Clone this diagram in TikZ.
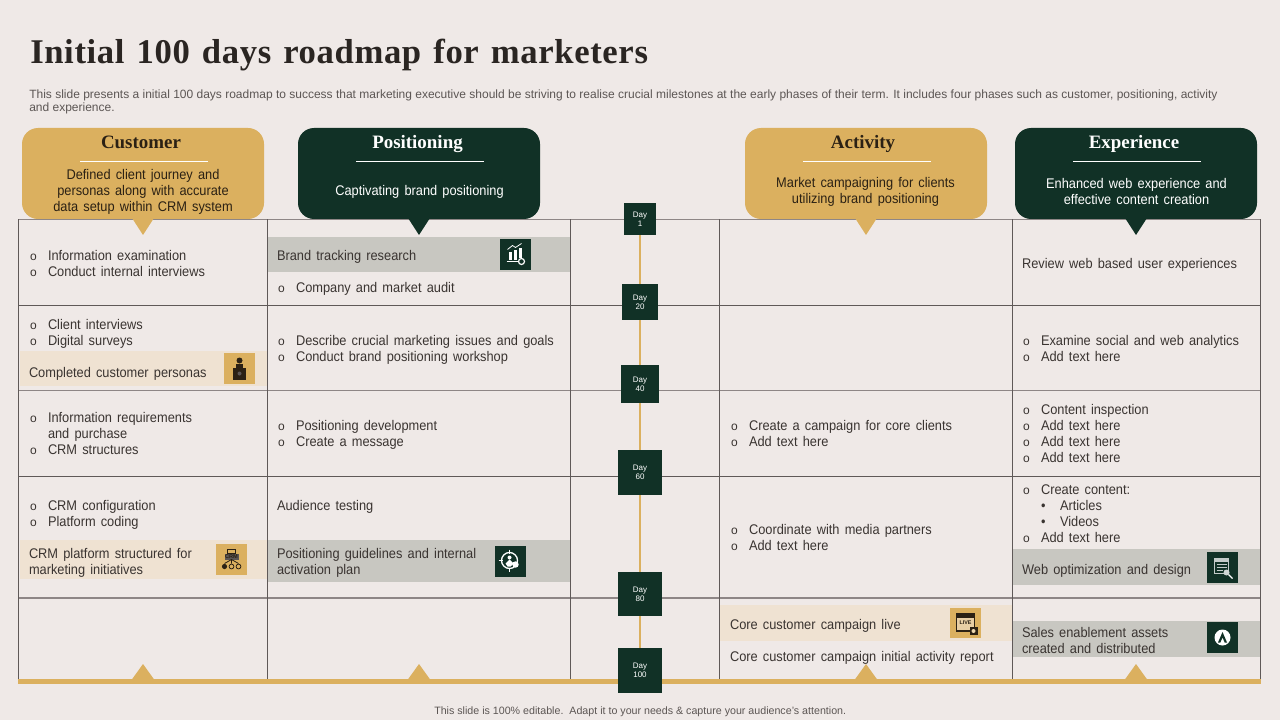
\documentclass[tikz,border=0pt]{standalone}
\usepackage{fontspec}
\setmainfont{Liberation Sans}
\newfontfamily\bodyf{Liberation Sans}[FakeStretch=0.915,WordSpace=1.45]
\newfontfamily\serifb{Liberation Serif}[BoldFont={Liberation Serif Bold}]
\newfontfamily\titlef{Liberation Serif Bold}[LetterSpace=1.8,WordSpace=1.3]
\definecolor{bgc}{HTML}{EFE9E7}
\definecolor{goldc}{HTML}{DBB05F}
\definecolor{greenc}{HTML}{113126}
\definecolor{tanc}{HTML}{EFE2D2}
\definecolor{grayc}{HTML}{C8C7C1}
\definecolor{inkc}{HTML}{3A3431}
\definecolor{subc}{HTML}{5C5654}
\definecolor{titlec}{HTML}{2A2522}
\definecolor{gridd}{HTML}{5F5958}
\definecolor{gridl}{HTML}{8E8686}
\definecolor{iconink}{HTML}{2B2114}
\newcounter{tn}
\tikzset{
  txt/.style={anchor=base west,inner sep=0pt,outer sep=0pt,text=inkc,font=\bodyf\fontsize{10.5}{12}\selectfont},
  callout/.style={rounded corners=12pt,minimum width=181.5pt,minimum height=68.25pt,inner sep=0pt},
  ctitle/.style={anchor=base,inner sep=0pt,font=\serifb\bfseries\fontsize{14.2}{16}\selectfont},
  cbody/.style={inner sep=0pt,align=center,font=\bodyf\fontsize{10.5}{12}\selectfont},
  daybox/.style={fill=greenc,inner sep=0pt,text=white,font=\fontsize{6}{6.75}\selectfont},
  gthin/.style={draw=gridd,line width=0.9pt},
  gthick/.style={draw=gridl,line width=1.35pt},
  vline/.style={draw=gridd,line width=0.85pt},
  rulew/.style={draw=white,line width=0.75pt},
  iw/.style={draw=white,line width=0.6pt},
  ik/.style={draw=iconink,line width=0.6pt}
}
\newcommand\tl[3]{\stepcounter{tn}\node[txt] (t\arabic{tn}) at (#1,#2) {#3};}
\newcommand\bl[3]{\stepcounter{tn}\node[txt,font=\fontsize{9}{12}\selectfont] (b\arabic{tn}) at ({#1-18},#2) {o};\node[txt] (t\arabic{tn}) at (#1,#2) {#3};}
\newcommand\dayl[1]{\raisebox{-0.75pt}[\height][\depth]{\begin{tabular}{@{}c@{}}Day\\#1\end{tabular}}}
\begin{document}
\begin{tikzpicture}[x=0.75pt,y=-0.75pt]
\useasboundingbox (0,0) rectangle (1280,720);
\fill[bgc] (0,0) rectangle (1280,720);

% title and intro
\node[anchor=base west,inner sep=0pt,text=titlec,font=\titlef\fontsize{26}{30}\selectfont] (title) at (30,64) {Initial 100 days roadmap for marketers};
\node[anchor=base west,inner sep=0pt,text=subc,font=\fontsize{9}{10.5}\selectfont] (intro1) at (29,98.5) {This slide presents a initial 100 days roadmap to success that marketing executive should be striving to realise crucial milestones at the early phases of their term. It includes four phases such as customer, positioning, activity};
\node[anchor=base west,inner sep=0pt,text=subc,font=\fontsize{9}{10.5}\selectfont] (intro2) at (29,111.5) {and experience.};

% bands
\fill[grayc] (268,237) rectangle (571,272);
\fill[tanc] (20,351) rectangle (267,386);
\fill[tanc] (20,540) rectangle (267,579);
\fill[grayc] (268,540) rectangle (571,582);
\fill[grayc] (1012,549) rectangle (1260,585);
\fill[grayc] (1012,621) rectangle (1260,657);
\fill[tanc] (720,605) rectangle (1012,641);

% grid
\draw[gthick] (19,219.5) -- (1260.5,219.5);
\draw[gthin] (19,305.5) -- (1260.5,305.5);
\draw[gthick] (19,390.5) -- (1260.5,390.5);
\draw[gthin] (19,476.5) -- (1260.5,476.5);
\draw[gthick] (19,598) -- (1260.5,598);
\foreach \xx in {18.5,267.5,570.5,719.5,1012.5,1260.5} \draw[vline] (\xx,219.5) -- (\xx,680);

% bottom bar and triangles
\fill[goldc] (18,679) rectangle (1261,684);
\foreach \xx in {143,419,866,1136} \fill[goldc] (\xx,664) -- ({\xx+11.5},680) -- ({\xx-11.5},680) -- cycle;

% callouts
\node[callout,fill=goldc] (c1) at (143,173.5) {};
\node[callout,fill=greenc] (c2) at (419,173.5) {};
\node[callout,fill=goldc] (c3) at (866,173.5) {};
\node[callout,fill=greenc] (c4) at (1136,173.5) {};
\fill[goldc] (132,218) -- (154,218) -- (143,235) -- cycle;
\fill[greenc] (408,218) -- (430,218) -- (419,235) -- cycle;
\fill[goldc] (855,218) -- (877,218) -- (866,235) -- cycle;
\fill[greenc] (1125,218) -- (1147,218) -- (1136,235) -- cycle;
\node[ctitle,text=iconink] (h1) at (141,148.5) {Customer};
\node[ctitle,text=white] (h2) at (417.5,148.5) {Positioning};
\node[ctitle,text=iconink] (h3) at (863,148.5) {Activity};
\node[ctitle,text=white] (h4) at (1134,148.5) {Experience};
\draw[rulew] (80,161.5) -- (208,161.5);
\draw[rulew] (356,161.5) -- (484,161.5);
\draw[rulew] (803,161.5) -- (931,161.5);
\draw[rulew] (1073,161.5) -- (1201,161.5);
\node[cbody,text=iconink] (b1) at (143,191.5) {Defined client journey and\\personas along with accurate\\data setup within CRM system};
\node[cbody,text=white] (b2) at (419.5,191.5) {Captivating brand positioning};
\node[cbody,text=iconink] (b3) at (865.5,191.5) {Market campaigning for clients\\utilizing brand positioning};
\node[cbody,text=white] (b4) at (1136.5,191.5) {Enhanced web experience and\\effective content creation};

% column 1
\bl{48}{260}{Information examination}
\bl{48}{276}{Conduct internal interviews}
\bl{48}{329}{Client interviews}
\bl{48}{345}{Digital surveys}
\tl{29}{377}{Completed customer personas}
\bl{48}{422}{Information requirements}
\tl{48}{438}{and purchase}
\bl{48}{454}{CRM structures}
\bl{48}{510}{CRM configuration}
\bl{48}{526}{Platform coding}
\tl{29}{558}{CRM platform structured for}
\tl{29}{574}{marketing initiatives}

% column 2
\tl{277}{260}{Brand tracking research}
\bl{296}{292}{Company and market audit}
\bl{296}{345}{Describe crucial marketing issues and goals}
\bl{296}{361}{Conduct brand positioning workshop}
\bl{296}{430}{Positioning development}
\bl{296}{446}{Create a message}
\tl{277}{510}{Audience testing}
\tl{277}{558}{Positioning guidelines and internal}
\tl{277}{574}{activation plan}

% column 4
\bl{749}{430}{Create a campaign for core clients}
\bl{749}{446}{Add text here}
\bl{749}{534}{Coordinate with media partners}
\bl{749}{550}{Add text here}
\tl{730}{629}{Core customer campaign live}
\tl{730}{661}{Core customer campaign initial activity report}

% column 5
\tl{1022}{268}{Review web based user experiences}
\bl{1041}{345}{Examine social and web analytics}
\bl{1041}{361}{Add text here}
\bl{1041}{414}{Content inspection}
\bl{1041}{430}{Add text here}
\bl{1041}{446}{Add text here}
\bl{1041}{462}{Add text here}
\bl{1041}{494}{Create content:}
\tl{1041}{510}{•}
\tl{1060}{510}{Articles}
\tl{1041}{526}{•}
\tl{1060}{526}{Videos}
\bl{1041}{542}{Add text here}
\tl{1022}{574}{Web optimization and design}
\tl{1022}{637}{Sales enablement assets}
\tl{1022}{653}{created and distributed}

% icons
% chart
\begin{scope}[shift={(515.5,254.5)}]
\fill[greenc] (-15.5,-15.5) rectangle (15.5,15.5);
\fill[white] (-7,-3) rectangle (-4,5);
\fill[white] (-2,-5) rectangle (1,5);
\fill[white] (3,-7) rectangle (6,3);
\draw[iw] (-8,-5) -- (-3,-9) -- (0,-7) -- (6,-11);
\draw[iw] (-9,7) -- (3,7);
\draw[iw,line width=0.9pt] (6,7) circle (3);
\end{scope}
% person
\begin{scope}[shift={(239.5,368.5)}]
\fill[goldc] (-15.5,-15.5) rectangle (15.5,15.5);
\fill[iconink] (0,-8) circle (3);
\fill[iconink] (-3.5,-5) rectangle (3.5,0);
\fill[iconink] (-6.5,-1) rectangle (6.5,11);
\fill[subc] (0,5) circle (2);
\end{scope}
% CRM
\begin{scope}[shift={(231.5,559.5)}]
\fill[goldc] (-15.5,-15.5) rectangle (15.5,15.5);
\draw[ik] (-4,-10) rectangle (4,-6);
\fill[subc] (-7,-6) rectangle (7,0);
\node[inner sep=0pt,text=iconink,font=\bfseries\fontsize{4.2}{4.2}\selectfont] (crm) at (0,-3) {CRM};
\draw[ik] (0,0) -- (0,4) (0,0) -- (-7,4) (0,0) -- (7,4);
\fill[iconink] (-7,7) circle (2.6);
\draw[ik] (0,7) circle (2.4);
\draw[ik] (7,7) circle (2.4);
\end{scope}
% target
\begin{scope}[shift={(510.5,561.5)}]
\fill[greenc] (-15.5,-15.5) rectangle (15.5,15.5);
\draw[iw,line width=1pt] (-1,-1) circle (8);
\draw[iw] (-1,-12) -- (-1,-8) (-12,-1) -- (-8,-1) (-1,6) -- (-1,10);
\fill[white] (-1,-4) circle (2);
\fill[white] (-5,2) -- (-1,-2) -- (3,2) -- (0,5) -- (-3,5) -- cycle;
\fill[white] (5,3) circle (3.2);
\end{scope}
% live
\begin{scope}[shift={(965.5,623)}]
\fill[goldc] (-15.5,-15) rectangle (15.5,15);
\draw[ik,line width=0.9pt,fill=tanc!60!goldc] (-9,-9) rectangle (9,8);
\fill[iconink] (-9,-9) rectangle (9,-5);
\node[inner sep=0pt,text=iconink,font=\bfseries\fontsize{4}{4}\selectfont] (live) at (0,0) {LIVE};
\fill[iconink] (4,4) rectangle (12,12);
\fill[goldc!50!white] (8,8) circle (2);
\end{scope}
% web optimization
\begin{scope}[shift={(1222.5,567.5)}]
\fill[greenc] (-15.5,-15.5) rectangle (15.5,15.5);
\draw[draw=white!75!greenc,line width=0.7pt] (-8,-9) rectangle (6,6);
\fill[white!75!greenc] (-8,-9) rectangle (6,-6);
\draw[draw=white!75!greenc,line width=0.6pt] (-6,-3) -- (4,-3) (-6,0) -- (4,0) (-6,3) -- (0,3);
\fill[white!80!greenc] (4,5) circle (3);
\draw[iw,line width=1pt] (6,7) -- (10,11);
\end{scope}
% sales
\begin{scope}[shift={(1222.5,637.5)}]
\fill[greenc] (-15.5,-15.5) rectangle (15.5,15.5);
\fill[white] (0,0) circle (8);
\fill[greenc] (0,-5.5) -- (4.5,5) -- (2.2,5) -- (0,0) -- (-2.2,5) -- (-4.5,5) -- cycle;
\end{scope}

% timeline
\node[daybox,minimum width=24pt,minimum height=24pt] (d1) at (640,219) {\dayl{1}};
\node[daybox,minimum width=27pt,minimum height=27pt] (d20) at (640,302) {\dayl{20}};
\node[daybox,minimum width=28.5pt,minimum height=28.5pt] (d40) at (640,384) {\dayl{40}};
\node[daybox,minimum width=33pt,minimum height=33.75pt] (d60) at (640,472.5) {\dayl{60}};
\node[daybox,minimum width=33pt,minimum height=33pt] (d80) at (640,594) {\dayl{80}};
\node[daybox,minimum width=33pt,minimum height=33.75pt] (d100) at (640,670.5) {\dayl{100}};
\draw[goldc,line width=1.3pt] (d1) -- (d20);
\draw[goldc,line width=1.3pt] (d20) -- (d40);
\draw[goldc,line width=1.3pt] (d40) -- (d60);
\draw[goldc,line width=1.3pt] (d60) -- (d80);
\draw[goldc,line width=1.3pt] (d80) -- (d100);

% footer
\node[anchor=base west,inner sep=0pt,text=subc,font=\fontsize{8}{9}\selectfont] (foot) at (434,714) {This slide is 100\% editable.\ \ Adapt it to your needs \& capture your audience's attention.};
\end{tikzpicture}
\end{document}
